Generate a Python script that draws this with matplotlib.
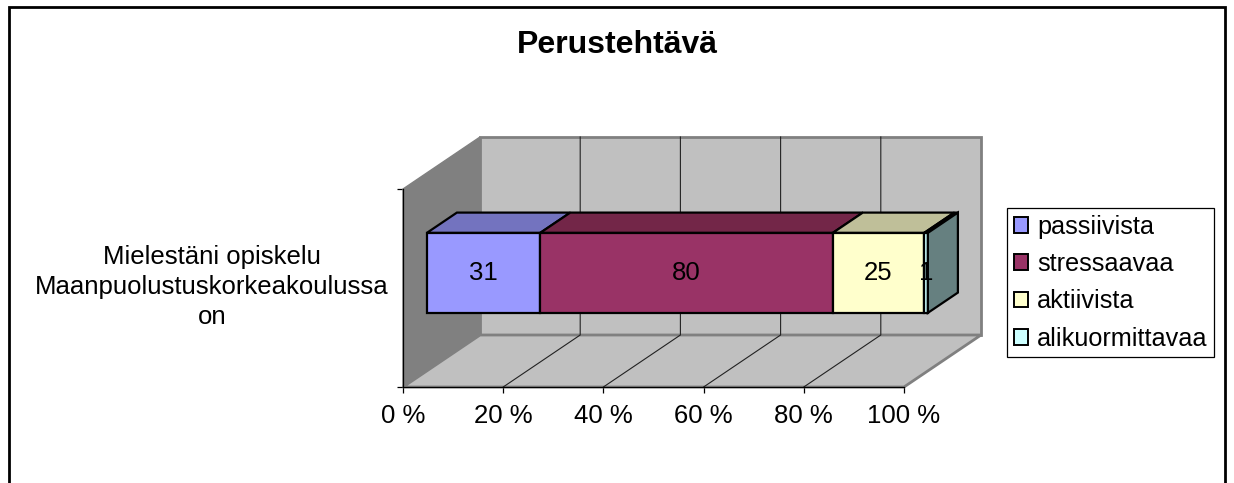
import numpy as np
import matplotlib
matplotlib.use("Agg")
import matplotlib.pyplot as plt
from matplotlib.patches import Polygon, Patch, Rectangle
from matplotlib.ticker import FuncFormatter

plt.rcParams['font.family'] = ['Liberation Sans', 'DejaVu Sans']

title = "Perustehtävä"
category = "Mielestäni opiskelu\nMaanpuolustuskorkeakoulussa\non"
series = ["passiivista", "stressaavaa", "aktiivista", "alikuormittavaa"]
values = [31, 80, 25, 1]
front_colors = ["#9999FF", "#993366", "#FFFFCC", "#CCFFFF"]
top_colors = ["#7373BF", "#732648", "#BFBF99", "#99BFBF"]
side_color = "#668080"
xticks = [0, 20, 40, 60, 80, 100]

W, H = 1234, 483
FS = 18.5
# oblique projection: how far the back of the box sits from the front, in axes units
DX = 77 / 501 * 100
DY = 52 / 198


def proj(x, z, depth):
    return x + depth * DX, z + depth * DY


def quad(ax, pts, color, ec, lw, zorder):
    ax.add_patch(Polygon(pts, closed=True, facecolor=color, edgecolor=ec, linewidth=lw,
                         zorder=zorder, clip_on=False, joinstyle="miter"))


fig = plt.figure(figsize=(W / 100, H / 100), dpi=100)
ax = fig.add_axes([403 / W, (H - 387) / H, 501 / W, 198 / H])
ax.patch.set_visible(False)
ax.set_xlim(0, 100)
ax.set_ylim(0, 1)

# walls and floor
gray = "#C0C0C0"
quad(ax, [proj(0, 0, 1), proj(100, 0, 1), proj(100, 1, 1), proj(0, 1, 1)], gray, "#808080", 2, 1)
quad(ax, [proj(0, 0, 0), proj(0, 0, 1), proj(0, 1, 1), proj(0, 1, 0)], "#808080", "#808080", 1, 2)
quad(ax, [proj(0, 0, 0), proj(100, 0, 0), proj(100, 0, 1), proj(0, 0, 1)], gray, "#808080", 2, 2)

for t in xticks[1:-1]:
    ax.plot(*zip(proj(t, 0, 0), proj(t, 0, 1), proj(t, 1, 1)), color="#222222", lw=0.8, zorder=3, clip_on=False)

# stacked box
d0, d1 = 0.31, 0.70
z0, z1 = 0.293, 0.697
shares = np.array(values) / sum(values) * 100
lefts = np.concatenate([[0], np.cumsum(shares)[:-1]])
for i, (left, share) in enumerate(zip(lefts, shares)):
    right = left + share
    quad(ax, [proj(left, z1, d0), proj(right, z1, d0), proj(right, z1, d1), proj(left, z1, d1)],
         top_colors[i], "black", 1.6, 5)
    quad(ax, [proj(left, z0, d0), proj(right, z0, d0), proj(right, z1, d0), proj(left, z1, d0)],
         front_colors[i], "black", 1.6, 6)
    tx, ty = proj(left + share / 2, (z0 + z1) / 2, d0)
    ax.text(tx, ty, str(values[i]), ha="center", va="center", fontsize=FS, color="black", zorder=8)
quad(ax, [proj(100, z0, d0), proj(100, z0, d1), proj(100, z1, d1), proj(100, z1, d0)],
     side_color, "black", 1.6, 7)

# axes
for s in ["top", "right"]:
    ax.spines[s].set_visible(False)
for s in ["left", "bottom"]:
    ax.spines[s].set_linewidth(0.9)
    ax.spines[s].set_zorder(4)
ax.set_xticks(xticks)
ax.xaxis.set_major_formatter(FuncFormatter(lambda v, p: "%d %%" % v))
ax.set_yticks([0, 1])
ax.set_yticklabels([])
ax.tick_params(axis="x", length=4.5, width=0.9, labelsize=FS, pad=8)
ax.tick_params(axis="y", length=4.5, width=0.9)

fig.text(212 / W, 1 - 287 / H, category, ha="center", va="center", fontsize=FS, linespacing=1.33)
fig.text(617 / W, 1 - 45 / H, title, ha="center", va="center", fontsize=23, fontweight="bold")

handles = [Patch(facecolor=c, edgecolor="black", linewidth=1.4) for c in front_colors]
leg = fig.legend(handles, series, loc="upper left", bbox_to_anchor=(1007 / W, 1 - 208 / H),
                 bbox_transform=fig.transFigure, fontsize=18.2, frameon=True, fancybox=False, framealpha=1,
                 edgecolor="black", borderaxespad=0, handlelength=0.58, handleheight=0.58,
                 handletextpad=0.35, labelspacing=0.53, borderpad=0.26)
leg.get_frame().set_linewidth(0.9)

# outer chart border, runs off the bottom of the picture
fig.add_artist(Rectangle((9 / W, -0.05), (1225 - 9) / W, 1 - 7 / H + 0.05, transform=fig.transFigure,
                         fill=False, edgecolor="black", linewidth=2))

fig.savefig("out.png", dpi=100)
